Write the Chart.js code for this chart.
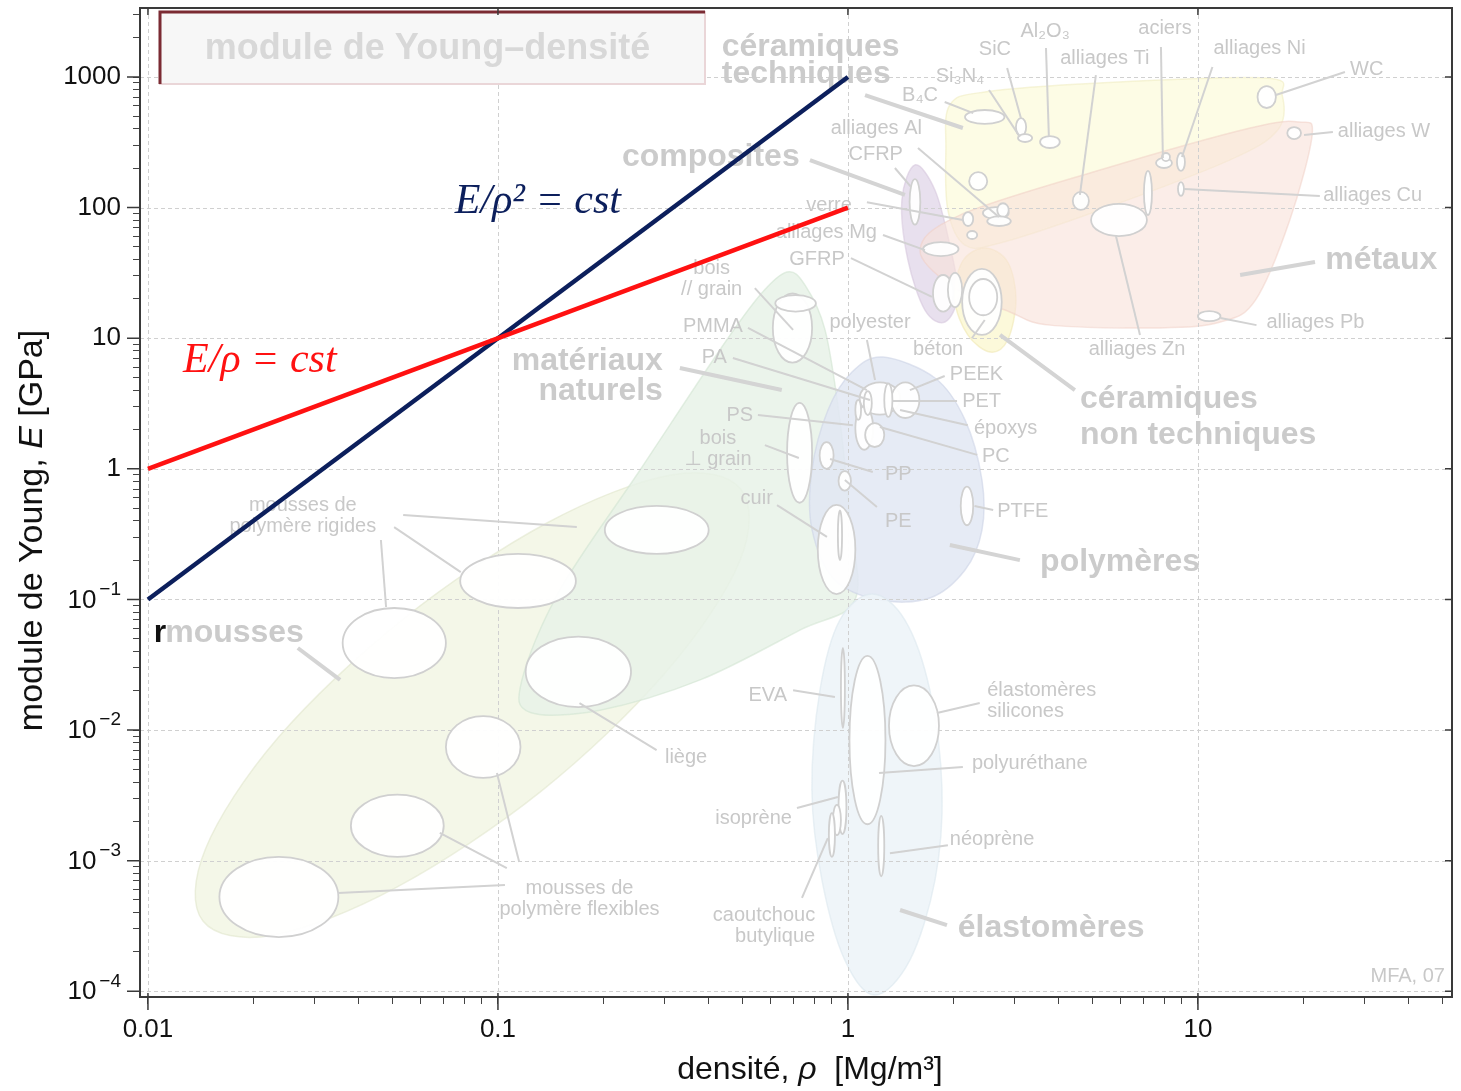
<!DOCTYPE html>
<html>
<head>
<meta charset="utf-8">
<script src="https://cdn.jsdelivr.net/npm/chart.js@4.4.0/dist/chart.umd.min.js"></script>
<style>
  html, body { margin: 0; padding: 0; background: #fff; }
  #wrap { width: 1461px; height: 1091px; position: relative; }
</style>
</head>
<body>
<div id="wrap"><canvas id="myChart"></canvas></div>
<script>
// axes
const xMajorTicks = [0.01, 0.1, 1, 10];
const xTickLabels = ['0.01', '0.1', '1', '10'];
const yMajorTicks = [1e-4, 1e-3, 1e-2, 1e-1, 1, 10, 100, 1000];
const yTickLabels = ['10^-4', '10^-3', '10^-2', '10^-1', '1', '10', '100', '1000'];

// guide lines (E/rho = cst, E/rho^2 = cst)
const guideRho = [0.01, 1];
const guideE1 = [1, 100];
const guideE2 = [0.1, 1000];

// material families : boundary points
const famNames = ['mousses', 'matériaux naturels', 'polymères', 'élastomères', 'composites',
                  'céramiques techniques', 'céramiques non techniques', 'métaux'];
const famRho = [
  [0.494, 0.491, 0.302, 0.133, 0.0514, 0.0228, 0.01436, 0.0146, 0.0235, 0.0536, 0.138, 0.312],
  [0.67, 0.754, 0.86, 0.948, 1.013, 1.047, 0.729, 0.378, 0.1955, 0.1233, 0.1171, 0.1503, 0.2547, 0.4306, 0.561],
  [1.259, 1.773, 2.16, 2.415, 2.415, 2.16, 1.714, 1.234, 0.918, 0.789, 0.789, 0.877, 1.027],
  [1.172, 1.455, 1.714, 1.857, 1.773, 1.503, 1.195, 0.98, 0.843, 0.789, 0.832, 0.948],
  [1.554, 1.773, 1.955, 2.06, 1.893, 1.66, 1.484, 1.426],
  [1.955, 2.46, 5.25, 15.5, 17.4, 16.9, 12.3, 5.25, 2.72, 2.16, 1.93, 1.905],
  [2.46, 2.86, 3.02, 2.86, 2.55, 2.2, 2.02, 2.12],
  [1.607, 2.09, 5.25, 14.1, 19.5, 21.2, 18.3, 14.6, 11.6, 7.79, 3.78, 2.9, 2.02]
];
const famE = [
  [0.70, 0.197, 0.0278, 0.00341, 0.000628, 0.000269, 0.000345, 0.00123, 0.00869, 0.0708, 0.385, 0.897],
  [32.1, 25.5, 11.6, 2.37, 0.405, 0.0989, 0.0583, 0.0242, 0.0142, 0.0137, 0.0242, 0.118, 0.98, 8.13, 21.4],
  [7.18, 4.96, 2.37, 0.82, 0.34, 0.168, 0.1025, 0.0989, 0.141, 0.345, 0.98, 2.82, 5.51],
  [0.11, 0.0695, 0.0202, 0.00348, 0.00071, 0.000173, 0.0000935, 0.000173, 0.00071, 0.00348, 0.0202, 0.0695],
  [212, 136, 51.7, 21.4, 13.3, 16.4, 39.7, 114],
  [611, 768, 900, 982, 728, 393, 231, 95.9, 53.6, 51.7, 95.9, 276],
  [49.1, 38.3, 19.6, 9.69, 7.84, 10.6, 19.6, 38.3],
  [47.3, 87.7, 194, 407, 452, 360, 80.4, 19.6, 13.3, 12.0, 12.6, 15.9, 24.2]
];
const famColors = ['rgba(243,246,230,0.92)', 'rgba(231,242,231,0.85)', 'rgba(226,231,243,0.85)', 'rgba(238,244,248,0.92)',
                   'rgba(230,221,236,0.9)', 'rgba(253,251,224,0.85)', 'rgba(252,248,212,0.85)', 'rgba(249,226,218,0.62)'];
const famEdges = ['rgba(225,230,205,0.6)', 'rgba(210,228,210,0.6)', 'rgba(205,212,230,0.6)', 'rgba(220,232,238,0.6)',
                  'rgba(215,200,222,0.6)', 'rgba(240,236,195,0.6)', 'rgba(240,232,180,0.6)', 'rgba(240,205,195,0.5)'];

// materials : density range [Mg/m3] and modulus range [GPa]
const matNames = [
  'mousse rigide A', 'mousse rigide B', 'mousse rigide C', 'mousse flexible A', 'mousse flexible B', 'mousse flexible C',
  'liège', 'bois // grain', 'bois // grain (bout)', 'bois ⊥ grain', 'cuir', 'cuir (fin)',
  'PP', 'PE', 'PTFE', 'polyester', 'PEEK', 'PS', 'PC', 'PET', 'PMMA', 'PA',
  'EVA', 'polyuréthane', 'silicones', 'isoprène', 'caoutchouc butylique', 'caoutchouc butylique 2', 'néoprène',
  'CFRP', 'GFRP', 'GFRP 2', 'béton', 'béton 2', 'alliages Mg', 'verre', 'alliages Al', 'alliages Al 2', 'alliages Al 3',
  'céramique A', 'céramique B', 'B4C', 'SiC', 'Si3N4', 'Al2O3', 'alliages Ti', 'alliages Zn', 'fonte',
  'aciers', 'aciers 2', 'alliages Ni', 'alliages Cu', 'WC', 'alliages W', 'alliages Pb'
];
const matRho = [
  [0.202, 0.40], [0.078, 0.167], [0.036, 0.071], [0.071, 0.116], [0.038, 0.070], [0.016, 0.035],
  [0.12, 0.24], [0.61, 0.79], [0.62, 0.81], [0.67, 0.79], [0.82, 1.05], [0.936, 0.962],
  [0.83, 0.91], [0.94, 1.02], [2.1, 2.28], [1.08, 1.41], [1.33, 1.6], [1.05, 1.18], [1.12, 1.27], [1.27, 1.34], [1.11, 1.17], [1.05, 1.09],
  [0.955, 0.98], [1.01, 1.28], [1.31, 1.82], [0.94, 0.99], [0.906, 0.955], [0.882, 0.918], [1.22, 1.27],
  [1.5, 1.61], [1.75, 2.0], [1.93, 2.12], [2.12, 2.75], [2.22, 2.67], [1.64, 2.07], [2.13, 2.28], [2.43, 2.88], [2.67, 2.88], [2.5, 2.92],
  [2.19, 2.34], [2.22, 2.5], [2.16, 2.8], [3.02, 3.23], [3.06, 3.36], [3.54, 4.03], [4.39, 4.88], [4.95, 7.15], [7.01, 7.39],
  [7.59, 8.43], [7.89, 8.32], [8.71, 9.18], [8.77, 9.12], [14.8, 16.7], [18.0, 19.7], [10, 11.6]
];
const matE = [
  [0.223, 0.52], [0.086, 0.223], [0.025, 0.086], [0.0043, 0.0128], [0.00107, 0.0032], [0.00026, 0.00107],
  [0.015, 0.052], [6.5, 22], [16, 21.4], [0.55, 3.2], [0.11, 0.53], [0.2, 0.48],
  [1.0, 1.6], [0.68, 0.96], [0.37, 0.73], [2.6, 4.6], [2.45, 4.6], [1.4, 3.0], [1.47, 2.24], [2.5, 4.5], [2.58, 3.94], [2.37, 3.37],
  [0.0104, 0.0425], [0.0019, 0.037], [0.0053, 0.022], [0.0016, 0.0041], [0.00157, 0.00267], [0.00107, 0.00231], [0.00076, 0.0022],
  [74, 165], [16, 30.5], [17.3, 31.7], [10.6, 34], [15, 28.4], [42.6, 54.5], [72.3, 92.5], [81.8, 101], [84.8, 108], [72.3, 85.8],
  [57.5, 66.2], [136, 187], [437, 559], [353, 485], [318, 366], [286, 353], [96, 132], [60.6, 107], [87.8, 191],
  [201, 240], [227, 262], [191, 262], [123, 157], [579, 853], [335, 414], [13.5, 16.1]
];

// annotations : text and its anchor (rho, E)
const famLabelText = ['céramiques\ntechniques', 'composites', 'métaux', 'céramiques\nnon techniques',
                      'matériaux\nnaturels', 'polymères', 'mousses', 'élastomères'];
const famLabelPos = [[0.436, 1698], [0.226, 244], [23.1, 39.7], [4.6, 3.42],
                     [0.296, 6.68], [3.54, 0.193], [0.0112, 0.0553], [2.06, 0.000305]];
const famLabelAlign = ['left', 'left', 'left', 'left', 'right', 'left', 'left', 'left'];
const famLabelGap = [27, 0, 0, 36, 30, 0, 0, 0];

const matLabelText = ['SiC', 'Al₂O₃', 'aciers', 'alliages Ti', 'alliages Ni', 'Si₃N₄', 'B₄C', 'WC', 'alliages W',
  'alliages Cu', 'alliages Pb', 'alliages Zn', 'alliages Al', 'CFRP', 'verre', 'alliages Mg', 'GFRP', 'béton',
  'bois\n// grain', 'PMMA', 'PA', 'polyester', 'PEEK', 'PET', 'époxys', 'PC', 'PS', 'bois\n⊥ grain', 'PP', 'PE',
  'PTFE', 'cuir', 'mousses de\npolymère rigides', 'liège', 'mousses de\npolymère flexibles', 'EVA',
  'élastomères\nsilicones', 'polyuréthane', 'isoprène', 'néoprène', 'caoutchouc\nbutylique', 'MFA, 07'];
const matLabelPos = [[2.63, 1611], [3.66, 2213], [8.05, 2371], [5.42, 1397], [15.0, 1667], [2.09, 1018], [1.607, 728],
  [27.2, 1132], [25.1, 386], [22.8, 123], [15.7, 13.3], [6.7, 8.26], [1.627, 407], [1.436, 257], [1.026, 103],
  [1.21, 64], [0.98, 40.4], [1.81, 8.26], [0.408, 34.5], [0.501, 12.2], [0.451, 7.18], [1.156, 13.3], [1.955, 5.32],
  [2.12, 3.3], [2.29, 2.02], [2.415, 1.25], [0.536, 2.58], [0.425, 1.72], [1.276, 0.912], [1.276, 0.398],
  [2.67, 0.475], [0.61, 0.597], [0.0277, 0.528], [0.3, 0.00621], [0.171, 0.000617], [0.67, 0.0185],
  [2.5, 0.0202], [2.26, 0.00559], [0.692, 0.00212], [1.955, 0.00146], [0.806, 0.000383], [50.8, 0.000129]];
const matLabelAlign = ['center', 'center', 'center', 'center', 'center', 'center', 'center', 'left', 'left',
  'left', 'left', 'center', 'right', 'right', 'right', 'right', 'right', 'center',
  'center', 'right', 'right', 'center', 'left', 'left', 'left', 'left', 'right', 'center', 'left', 'left',
  'left', 'right', 'center', 'left', 'center', 'right',
  'left', 'left', 'right', 'left', 'right', 'right'];

// leader lines [rho1, E1, rho2, E2]
const thinLeaders = [
  [2.85, 1172, 3.12, 485], [3.68, 1667, 3.75, 353], [7.84, 1698, 7.94, 240], [5.11, 1036, 4.6, 125],
  [11.0, 1193, 9.0, 244], [2.53, 795, 3.1, 348], [1.89, 644, 2.28, 529], [26.3, 1092, 16.7, 728],
  [20.1, 360, 24.3, 379], [9.12, 139, 22.3, 123], [11.6, 14.3, 14.7, 12.6], [6.83, 10.6, 5.83, 60.7],
  [1.585, 286, 2.7, 84.7], [1.362, 201, 1.514, 144], [1.133, 110, 2.13, 80.4], [1.259, 61.7, 1.66, 47.3],
  [1.02, 41.1, 1.738, 20.7], [2.26, 10.0, 2.46, 13.8], [0.542, 24.2, 0.697, 11.6], [0.518, 12.0, 1.133, 4.01],
  [0.469, 7.05, 1.156, 3.37], [1.133, 9.69, 1.195, 4.79], [1.89, 5.14, 1.503, 4.01], [2.05, 3.3, 1.345, 3.3],
  [2.2, 2.16, 1.409, 2.82], [2.34, 1.28, 1.234, 2.09], [0.553, 2.58, 1.033, 2.16], [0.579, 1.52, 0.724, 1.21],
  [1.178, 0.946, 0.889, 1.19], [1.21, 0.51, 0.98, 0.82], [2.6, 0.484, 2.3, 0.519], [0.627, 0.528, 0.871, 0.301],
  [0.0536, 0.443, 0.168, 0.358], [0.0505, 0.358, 0.0783, 0.162], [0.0463, 0.285, 0.0479, 0.0875],
  [0.171, 0.0161, 0.284, 0.00703], [0.0349, 0.000565, 0.1047, 0.00065], [0.0682, 0.00163, 0.106, 0.000877],
  [0.0993, 0.00469, 0.115, 0.000975], [0.697, 0.0202, 0.918, 0.0179], [1.796, 0.0135, 2.38, 0.0161],
  [1.227, 0.00469, 2.13, 0.00521], [0.715, 0.00253, 0.936, 0.00307], [1.318, 0.00114, 1.93, 0.00131],
  [0.739, 0.000518, 0.876, 0.00149]
];
const thickLeaders = [
  [1.119, 728, 2.13, 407], [0.779, 231, 1.455, 125], [13.2, 30.5, 21.6, 38.3], [2.72, 10.6, 4.45, 4.01],
  [0.331, 5.92, 0.647, 4.01], [1.955, 0.261, 3.1, 0.2], [0.0268, 0.0425, 0.0354, 0.0242], [1.409, 0.000419, 1.918, 0.000321]
];

// equation labels (left end of baseline)
const eqText = ['E/ρ² = cst', 'E/ρ = cst'];
const eqPos = [[0.0753, 91.0], [0.0126, 5.51]];

const SANS = "'Liberation Sans', Arial, 'DejaVu Sans', sans-serif";
const NAVY = '#0c1f5c';
const RED = '#ff1111';

function isIn(list, v) {
  return list.some(t => Math.abs(Math.log10(v) - Math.log10(t)) < 1e-6);
}
function allTicks(majors) {
  const out = [];
  majors.forEach(m => { for (let k = 1; k < 10; k++) out.push(m * k); });
  return out;
}

// smooth closed curve through points
function smoothClosed(ctx, p) {
  const n = p.length;
  ctx.beginPath();
  ctx.moveTo(p[0][0], p[0][1]);
  for (let i = 0; i < n; i++) {
    const p0 = p[(i - 1 + n) % n], p1 = p[i], p2 = p[(i + 1) % n], p3 = p[(i + 2) % n];
    ctx.bezierCurveTo(p1[0] + (p2[0] - p0[0]) / 6, p1[1] + (p2[1] - p0[1]) / 6,
                      p2[0] - (p3[0] - p1[0]) / 6, p2[1] - (p3[1] - p1[1]) / 6, p2[0], p2[1]);
  }
  ctx.closePath();
}

function drawLines(ctx, text, x, y, gap) {
  text.split('\n').forEach((s, i) => ctx.fillText(s, x, y + i * gap));
}

function drawRich(ctx, parts, cx, cy) {
  let w = 0;
  parts.forEach(p => { ctx.font = p[1]; w += ctx.measureText(p[0]).width; });
  let x = cx - w / 2;
  parts.forEach(p => { ctx.font = p[1]; ctx.fillText(p[0], x, cy); x += ctx.measureText(p[0]).width; });
}

const ashbyPlugin = {
  id: 'ashby',
  beforeDatasetsDraw(chart) {
    const {ctx, chartArea: a, scales: {x, y}} = chart;
    const px = v => x.getPixelForValue(v), py = v => y.getPixelForValue(v);
    ctx.save();
    ctx.beginPath();
    ctx.rect(a.left, a.top, a.right - a.left, a.bottom - a.top);
    ctx.clip();

    // family envelopes
    famRho.forEach((rs, i) => {
      const pts = rs.map((r, k) => [px(r), py(famE[i][k])]);
      smoothClosed(ctx, pts);
      ctx.fillStyle = famColors[i];
      ctx.fill();
      ctx.strokeStyle = famEdges[i];
      ctx.lineWidth = 1.5;
      ctx.stroke();
    });

    // dashed grid at the decades, over the envelopes
    ctx.strokeStyle = '#d0d0d0';
    ctx.lineWidth = 1;
    ctx.setLineDash([4, 3]);
    ctx.beginPath();
    xMajorTicks.forEach(v => { const X = Math.round(px(v)) + 0.5; ctx.moveTo(X, a.top); ctx.lineTo(X, a.bottom); });
    yMajorTicks.forEach(v => { const Y = Math.round(py(v)) + 0.5; ctx.moveTo(a.left, Y); ctx.lineTo(a.right, Y); });
    ctx.stroke();
    ctx.setLineDash([]);

    // material bubbles
    matRho.forEach((r, i) => {
      const x1 = px(r[0]), x2 = px(r[1]), y1 = py(matE[i][0]), y2 = py(matE[i][1]);
      ctx.beginPath();
      ctx.ellipse((x1 + x2) / 2, (y1 + y2) / 2, Math.abs(x2 - x1) / 2, Math.abs(y1 - y2) / 2, 0, 0, Math.PI * 2);
      ctx.fillStyle = 'rgba(255,255,255,0.95)';
      ctx.fill();
      ctx.strokeStyle = '#d0d0d0';
      ctx.lineWidth = 1.8;
      ctx.stroke();
    });

    // leaders
    ctx.strokeStyle = '#d2d2d2';
    ctx.lineWidth = 2;
    thinLeaders.forEach(l => {
      ctx.beginPath(); ctx.moveTo(px(l[0]), py(l[1])); ctx.lineTo(px(l[2]), py(l[3])); ctx.stroke();
    });
    ctx.lineWidth = 4;
    ctx.strokeStyle = '#d4d4d4';
    thickLeaders.forEach(l => {
      ctx.beginPath(); ctx.moveTo(px(l[0]), py(l[1])); ctx.lineTo(px(l[2]), py(l[3])); ctx.stroke();
    });

    // labels
    ctx.textBaseline = 'middle';
    ctx.fillStyle = '#c8c8c8';
    ctx.font = '20px ' + SANS;
    matLabelText.forEach((t, i) => {
      ctx.textAlign = matLabelAlign[i];
      drawLines(ctx, t, px(matLabelPos[i][0]), py(matLabelPos[i][1]), 21);
    });
    ctx.fillStyle = '#cbcbcb';
    ctx.font = 'bold 32px ' + SANS;
    famLabelText.forEach((t, i) => {
      ctx.textAlign = famLabelAlign[i];
      drawLines(ctx, t, px(famLabelPos[i][0]), py(famLabelPos[i][1]), famLabelGap[i]);
    });
    // stray black glyph in front of "mousses"
    ctx.fillStyle = '#111';
    ctx.textAlign = 'right';
    ctx.fillText('r', px(famLabelPos[6][0]) + 1, py(famLabelPos[6][1]));

    // title box
    const bx = a.left + 20, by = a.top + 4, bw = 545, bh = 72;
    ctx.fillStyle = '#f7f7f7';
    ctx.fillRect(bx, by, bw, bh);
    ctx.strokeStyle = '#ead6d8';
    ctx.lineWidth = 2;
    ctx.strokeRect(bx, by, bw, bh);
    ctx.strokeStyle = '#7b2b33';
    ctx.lineWidth = 3;
    ctx.beginPath();
    ctx.moveTo(bx, by + bh); ctx.lineTo(bx, by); ctx.lineTo(bx + bw, by);
    ctx.stroke();
    ctx.fillStyle = '#d8d8d8';
    ctx.font = 'bold 36px ' + SANS;
    ctx.textAlign = 'center';
    ctx.fillText('module de Young–densité', bx + bw / 2 - 5, by + bh / 2 + 1);
    ctx.restore();
  },
  afterDatasetsDraw(chart) {
    const {ctx, chartArea: a, scales: {x, y}} = chart;
    const px = v => x.getPixelForValue(v), py = v => y.getPixelForValue(v);
    ctx.save();
    // equations
    ctx.textAlign = 'left';
    ctx.textBaseline = 'alphabetic';
    ctx.font = "italic 42px 'Liberation Serif', 'DejaVu Serif', serif";
    ctx.fillStyle = NAVY;
    ctx.fillText(eqText[0], px(eqPos[0][0]), py(eqPos[0][1]));
    ctx.fillStyle = RED;
    ctx.fillText(eqText[1], px(eqPos[1][0]), py(eqPos[1][1]));

    // frame
    ctx.strokeStyle = '#3a3a3a';
    ctx.lineWidth = 2;
    ctx.strokeRect(a.left, a.top, a.right - a.left, a.bottom - a.top);
    ctx.lineWidth = 1.5;
    ctx.beginPath();
    xMajorTicks.forEach(v => {
      const X = px(v);
      ctx.moveTo(X, a.bottom - 4); ctx.lineTo(X, a.bottom + 13);
      ctx.moveTo(X, a.top); ctx.lineTo(X, a.top + 7);
    });
    yMajorTicks.forEach(v => {
      const Y = py(v);
      ctx.moveTo(a.left - 13, Y); ctx.lineTo(a.left, Y);
      ctx.moveTo(a.right - 7, Y); ctx.lineTo(a.right, Y);
    });
    ctx.stroke();

    // y tick labels written as powers of ten
    ctx.fillStyle = '#111';
    ctx.textBaseline = 'middle';
    ctx.textAlign = 'right';
    yTickLabels.forEach((t, i) => {
      if (t.indexOf('^') < 0) return;
      const [base, pow] = t.split('^');
      const Y = py(yMajorTicks[i]);
      const right = a.left - 19;
      ctx.font = '19px ' + SANS;
      const pw = ctx.measureText('−' + pow.slice(1)).width;
      ctx.fillText('−' + pow.slice(1), right, Y - 10);
      ctx.font = '26px ' + SANS;
      ctx.fillText(base, right - pw - 3, Y + 1);
    });

    // axis titles
    ctx.textAlign = 'left';
    drawRich(ctx, [['densité, ', '32px ' + SANS], ['ρ', 'italic 32px ' + SANS], ['  [Mg/m³]', '32px ' + SANS]],
             (a.left + a.right) / 2 + 14, a.bottom + 73);
    ctx.translate(33, (a.top + a.bottom) / 2 + 28);
    ctx.rotate(-Math.PI / 2);
    drawRich(ctx, [['module de Young, ', '34px ' + SANS], ['E', 'italic 34px ' + SANS], [' [GPa]', '34px ' + SANS]], 0, 0);
    ctx.restore();
  }
};

const config = {
  type: 'scatter',
  data: {
    datasets: [
      { label: 'E/ρ = cst', data: guideRho.map((r, i) => ({x: r, y: guideE1[i]})),
        showLine: true, borderColor: RED, backgroundColor: RED, borderWidth: 4.5, pointRadius: 0 },
      { label: 'E/ρ² = cst', data: guideRho.map((r, i) => ({x: r, y: guideE2[i]})),
        showLine: true, borderColor: NAVY, backgroundColor: NAVY, borderWidth: 4.5, pointRadius: 0 }
    ]
  },
  options: {
    responsive: true,
    maintainAspectRatio: false,
    animation: false,
    devicePixelRatio: 1,
    layout: { padding: { top: 8, right: 9, left: 0, bottom: 0 } },
    plugins: { legend: { display: false }, tooltip: { enabled: false }, title: { display: false } },
    scales: {
      x: {
        type: 'logarithmic',
        min: 0.00949, max: 53.2,
        afterFit: s => { s.height = 94; s.paddingLeft = 0; s.paddingRight = 0; },
        afterBuildTicks: s => { s.ticks = allTicks(xMajorTicks).filter(v => v <= 53.2).map(v => ({value: v})); },
        ticks: {
          autoSkip: false, maxRotation: 0, padding: 10, color: '#111',
          font: { family: SANS, size: 26 },
          callback: v => { const i = xMajorTicks.findIndex(t => isIn([t], v)); return i >= 0 ? xTickLabels[i] : ''; }
        },
        grid: {
          drawOnChartArea: false,
          tickColor: '#444', tickLength: 7, tickBorderDash: [], lineWidth: 1
        },
        border: { display: false }
      },
      y: {
        type: 'logarithmic',
        min: 9.04e-5, max: 3376,
        afterFit: s => { s.width = 140; s.paddingTop = 0; s.paddingBottom = 0; },
        afterBuildTicks: s => { s.ticks = allTicks(yMajorTicks).filter(v => v <= 3376).map(v => ({value: v})); },
        ticks: {
          autoSkip: false, padding: 12, color: '#111',
          font: { family: SANS, size: 26 },
          callback: v => {
            const i = yMajorTicks.findIndex(t => isIn([t], v));
            return (i >= 0 && yTickLabels[i].indexOf('^') < 0) ? yTickLabels[i] : '';
          }
        },
        grid: {
          drawOnChartArea: false,
          tickColor: '#444', tickLength: 7, tickBorderDash: [], lineWidth: 1
        },
        border: { display: false }
      }
    }
  },
  plugins: [ashbyPlugin]
};

window.onload = function () {
  new Chart(document.getElementById('myChart'), config);
};
</script>
</body>
</html>
